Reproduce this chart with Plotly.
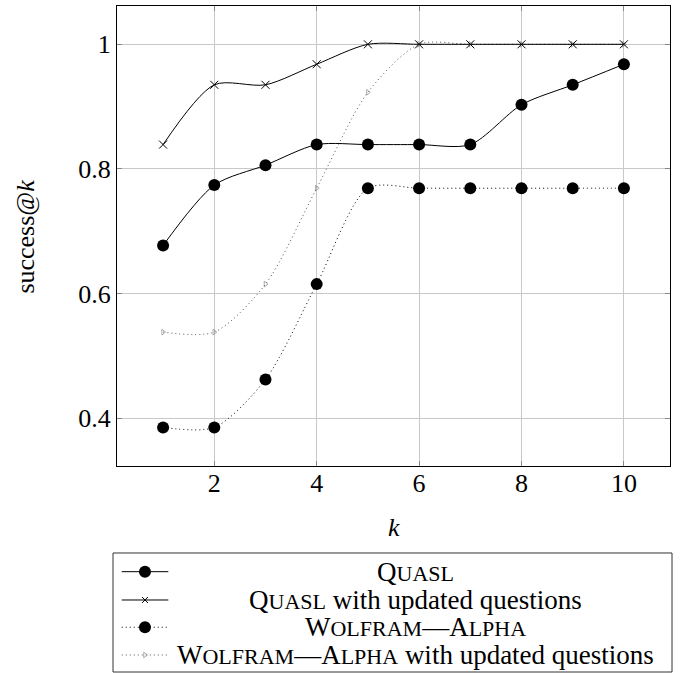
import plotly.graph_objects as go

k = [1, 2, 3, 4, 5, 6, 7, 8, 9, 10]
quasl = [0.677, 0.774, 0.806, 0.839, 0.839, 0.839, 0.839, 0.903, 0.935, 0.968]
quasl_updated = [0.839, 0.935, 0.935, 0.968, 1.0, 1.0, 1.0, 1.0, 1.0, 1.0]
wolfram = [0.385, 0.385, 0.462, 0.615, 0.769, 0.769, 0.769, 0.769, 0.769, 0.769]
wolfram_updated = [0.538, 0.538, 0.615, 0.769, 0.923, 1.0, 1.0, 1.0, 1.0, 1.0]

x_ticks = [2, 4, 6, 8, 10]
y_ticks = [0.4, 0.6, 0.8, 1.0]
y_ticktext = ["0.4", "0.6", "0.8", "1"]

SC = 22  # small caps size
BIG = 27
def sc(s):
    return f'<span style="font-size:{SC}px">{s}</span>'

legend_names = [
    "Q" + sc("UASL"),
    "Q" + sc("UASL") + " with updated questions",
    "W" + sc("OLFRAM") + "—A" + sc("LPHA"),
    "W" + sc("OLFRAM") + "—A" + sc("LPHA") + " with updated questions",
]

SERIF = "Liberation Serif"
DOT = "1px,3px"

styles = [
    dict(line=dict(color="black", width=1), marker=dict(symbol="circle", size=12, color="black")),
    dict(line=dict(color="black", width=1), marker=dict(symbol="x-thin", size=8, color="black", line=dict(color="black", width=1))),
    dict(line=dict(color="black", width=1, dash=DOT), marker=dict(symbol="circle", size=12, color="black")),
    dict(line=dict(color="#555555", width=1, dash=DOT), marker=dict(symbol="triangle-right-open", size=5, color="#777777", line=dict(color="#777777", width=0.6))),
]
series = [quasl, quasl_updated, wolfram, wolfram_updated]

fig = go.Figure()
order = [3, 2, 0, 1]
for i in order:
    st = styles[i]
    fig.add_trace(go.Scatter(
        x=k, y=series[i], mode="lines+markers",
        line=dict(shape="spline", smoothing=0.8, **st["line"]),
        marker=st["marker"], showlegend=False, xaxis="x", yaxis="y"))

# custom legend drawn in auxiliary axes
row_y = [0.843, 0.605, 0.376, 0.143]
leg_sizes = [12, 6, 12, 5]
for i in range(4):
    st = styles[i]
    fig.add_trace(go.Scatter(
        x=[0.0156, 0.099], y=[row_y[i], row_y[i]], mode="lines",
        line=st["line"], showlegend=False, xaxis="x2", yaxis="y2", hoverinfo="skip"))
    m = dict(st["marker"])
    m["size"] = leg_sizes[i]
    fig.add_trace(go.Scatter(
        x=[0.0572], y=[row_y[i]], mode="markers", marker=m,
        showlegend=False, xaxis="x2", yaxis="y2", hoverinfo="skip"))
    fig.add_annotation(x=0.542, y=row_y[i], xref="x2", yref="y2",
                       text=legend_names[i], showarrow=False,
                       xanchor="center", yanchor="middle",
                       font=dict(family=SERIF, size=BIG, color="black"))

fig.add_shape(type="rect", xref="paper", yref="paper", x0=0, x1=1, y0=0, y1=0.1787,
              line=dict(color="#333333", width=1))

# axis titles
fig.add_annotation(x=-0.1565, y=0.653, xref="paper", yref="paper",
                   text="success@<i>k</i>", textangle=-90, showarrow=False,
                   xanchor="center", yanchor="middle",
                   font=dict(family=SERIF, size=26, color="black"))
fig.add_annotation(x=0.502, y=0.2177, xref="paper", yref="paper",
                   text="<i>k</i>", showarrow=False,
                   xanchor="center", yanchor="middle",
                   font=dict(family=SERIF, size=26, color="black"))

fig.update_layout(
    width=692, height=673,
    margin=dict(l=113, r=20, t=6, b=1),
    plot_bgcolor="white", paper_bgcolor="white",
    showlegend=False,
    xaxis=dict(domain=[0.00716, 0.9964], range=[0.1, 10.9], tickvals=x_ticks,
               showgrid=True, gridcolor="#c8c8c8", gridwidth=1, zeroline=False,
               showline=True, linecolor="black", linewidth=1, mirror="ticks",
               ticks="inside", ticklen=5, tickcolor="#888888", ticklabelstandoff=-6,
               tickfont=dict(family=SERIF, size=26, color="black"), anchor="y"),
    yaxis=dict(domain=[0.3093, 1.0], range=[0.323, 1.0615], tickvals=y_ticks, ticktext=y_ticktext,
               showgrid=True, gridcolor="#c8c8c8", gridwidth=1, zeroline=False,
               showline=True, linecolor="black", linewidth=1, mirror="ticks",
               ticks="inside", ticklen=5, tickcolor="#888888",
               tickfont=dict(family=SERIF, size=26, color="black"), anchor="x"),
    xaxis2=dict(domain=[0, 1], range=[0, 1], visible=False, anchor="y2", fixedrange=True),
    yaxis2=dict(domain=[0, 0.1787], range=[0, 1], visible=False, anchor="x2", fixedrange=True),
)

fig.write_html("out.html", config={"displayModeBar": False},
               post_script="document.body.style.margin='0px';")
